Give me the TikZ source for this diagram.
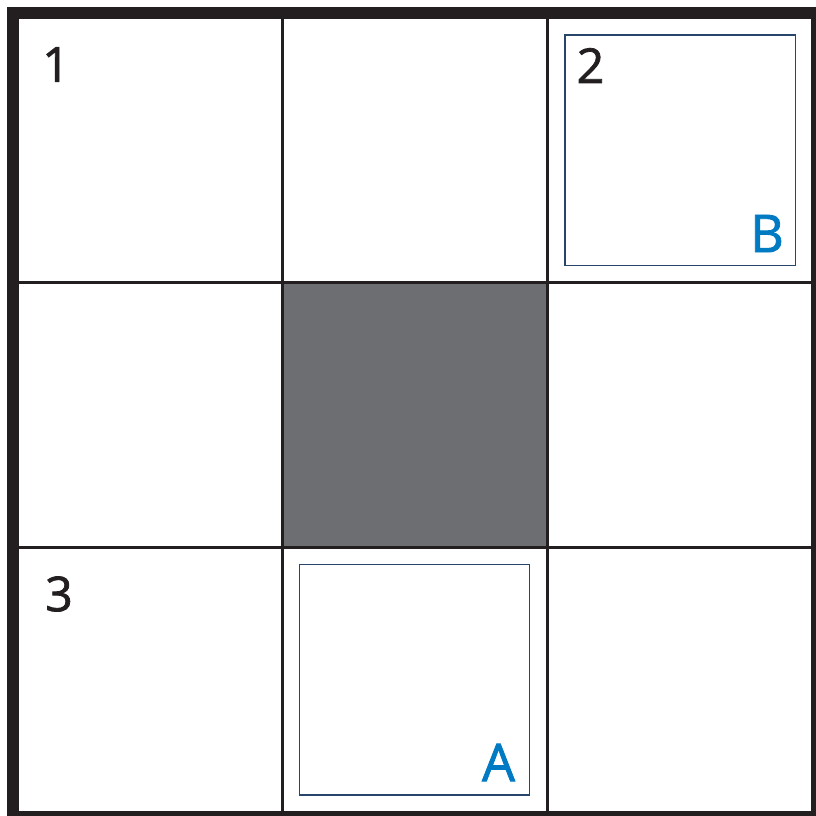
\documentclass[tikz,border=0pt]{standalone}
\usepackage{fontspec}
\setmainfont{Open Sans}
\newfontfamily\lblfont[FakeBold=1.6]{Open Sans}
\definecolor{gridblack}{RGB}{35,31,32}
\definecolor{midgray}{RGB}{109,110,113}
\definecolor{boxnavy}{RGB}{40,70,105}
\definecolor{letterblue}{RGB}{0,122,194}
\begin{document}
\begin{tikzpicture}[x=1pt,y=-1pt,
  gridline/.style={draw=gridblack,line width=3pt},
  frameline/.style={draw=gridblack,line width=12pt},
  innerbox/.style={draw=boxnavy,line width=1.2pt},
  numlabel/.style={inner sep=0pt,text=gridblack,font=\lblfont\fontsize{48}{48}\selectfont},
  letlabel/.style={inner sep=0pt,text=letterblue,font=\lblfont\fontsize{52}{52}\selectfont}]
\useasboundingbox (0,0) rectangle (816,816);
\begin{scope}
\clip (0,0) rectangle (816,816);
\fill[midgray] (282.5,282.5) rectangle (547,547);
\draw[gridline] (282.5,19) -- (282.5,811);
\draw[gridline] (547,19) -- (547,811);
\draw[gridline] (19,282.5) -- (811,282.5);
\draw[gridline] (19,547) -- (811,547);
\draw[frameline] (13,13.5) rectangle (817,817);
\draw[innerbox] (565,35) rectangle (795.3,265.7);
\draw[innerbox] (299.3,564.7) rectangle (529.3,795);
\end{scope}
\node[numlabel] (n1) at (56,64.5) {1};
\node[numlabel] (n2) at (590.5,65.5) {2};
\node[numlabel] (n3) at (59,594) {3};
\node[letlabel] (lb) at (767,233.5) {B};
\node[letlabel] (la) at (498.5,762.5) {A};
\end{tikzpicture}
\end{document}
